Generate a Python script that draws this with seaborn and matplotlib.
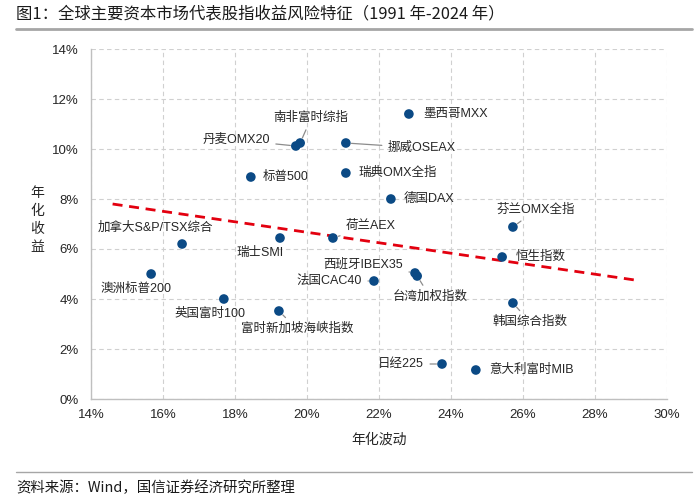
import matplotlib
matplotlib.use("Agg")
import matplotlib.pyplot as plt
import seaborn as sns
import pandas as pd
from matplotlib.lines import Line2D

# ---- data (percent) ----
names = ["墨西哥MXX", "丹麦OMX20", "南非富时综指", "挪威OSEAX", "标普500", "瑞典OMX全指",
         "德国DAX", "芬兰OMX全指", "荷兰AEX", "加拿大S&P/TSX综合", "瑞士SMI", "恒生指数",
         "澳洲标普200", "西班牙IBEX35", "台湾加权指数", "法国CAC40", "英国富时100",
         "富时新加坡海峡指数", "韩国综合指数", "日经225", "意大利富时MIB"]
volatility = [22.83, 19.69, 19.81, 21.08, 18.44, 21.08,
              22.33, 25.72, 20.72, 16.53, 19.25, 25.42,
              15.67, 23.00, 23.06, 21.86, 17.69,
              19.22, 25.72, 23.75, 24.69]
annual_return = [11.40, 10.12, 10.24, 10.24, 8.88, 9.04,
                 8.00, 6.88, 6.44, 6.20, 6.44, 5.68,
                 5.00, 5.04, 4.92, 4.72, 4.00,
                 3.52, 3.84, 1.40, 1.16]
trend_vol = [14.6, 29.2]
trend_ret = [7.80, 4.74]
x_ticks = [14, 16, 18, 20, 22, 24, 26, 28, 30]
y_ticks = [0, 2, 4, 6, 8, 10, 12, 14]

# ---- label layout (offset in pixels, ha, leader) ----
layout = {
    "墨西哥MXX": (14, 0, "left", False),
    "丹麦OMX20": (-26, 6, "right", True),
    "南非富时综指": (11, 25, "center", True),
    "挪威OSEAX": (42, -5, "left", True),
    "标普500": (12, 0, "left", False),
    "瑞典OMX全指": (13, 0, "left", False),
    "德国DAX": (13, 0, "left", False),
    "芬兰OMX全指": (23, 17, "center", True),
    "荷兰AEX": (13, 12, "left", True),
    "加拿大S&P/TSX综合": (-27, 16, "center", False),
    "瑞士SMI": (-20, -15, "center", False),
    "恒生指数": (14, 0, "left", False),
    "澳洲标普200": (-15, -15, "center", False),
    "西班牙IBEX35": (-12, 9, "right", True),
    "台湾加权指数": (13, -21, "center", True),
    "法国CAC40": (-12, 0, "right", True),
    "英国富时100": (-14, -15, "center", False),
    "富时新加坡海峡指数": (18, -18, "center", True),
    "韩国综合指数": (17, -19, "center", True),
    "日经225": (-18, 0, "right", True),
    "意大利富时MIB": (13, 0, "left", False),
}

sns.set_theme(style="white")
plt.rcParams["font.family"] = ["Liberation Sans", "Noto Sans CJK SC", "DejaVu Sans"]
plt.rcParams["axes.unicode_minus"] = False

df = pd.DataFrame({"name": names, "vol": volatility, "ret": annual_return})

fig = plt.figure(figsize=(7.0, 5.01), dpi=100)
ax = fig.add_axes([91 / 700, 1 - 399 / 501, (667 - 91) / 700, (399 - 49) / 501])

ax.plot(trend_vol, trend_ret, color="#E3000F", lw=2.0, linestyle=(0, (3.6, 2.4)), zorder=2)
sns.scatterplot(data=df, x="vol", y="ret", ax=ax, color="#0B4A85", s=48,
                edgecolor="none", zorder=3, legend=False)

for _, r in df.iterrows():
    dx, dy, ha, leader = layout[r["name"]]
    kw = {}
    if leader:
        kw["arrowprops"] = dict(arrowstyle="-", color="#8C8C8C", lw=0.9,
                                shrinkA=2, shrinkB=4)
    ax.annotate(r["name"], (r["vol"], r["ret"]), xytext=(dx, dy),
                textcoords="offset pixels", ha=ha, va="center",
                fontsize=9, color="#262626", zorder=4, **kw)

ax.set_xlim(14, 30)
ax.set_ylim(0, 14)
ax.set_xticks(x_ticks)
ax.set_yticks(y_ticks)
ax.set_xticklabels([f"{t}%" for t in x_ticks])
ax.set_yticklabels([f"{t}%" for t in y_ticks])
ax.tick_params(axis="both", length=0, labelsize=9.5, colors="#262626")
ax.tick_params(axis="y", pad=9)
ax.tick_params(axis="x", pad=7.5)
ax.grid(True, color="#D0D0D0", linestyle=(0, (4, 3)), lw=0.8)
ax.set_axisbelow(True)
for s in ["top", "right"]:
    ax.spines[s].set_visible(False)
for s in ["left", "bottom"]:
    ax.spines[s].set_color("#BFBFBF")
    ax.spines[s].set_linewidth(1.0)
ax.set_xlabel("")
ax.set_ylabel("")

fig.text(379 / 700, 1 - 440 / 501, "年化波动", ha="center", va="center",
         fontsize=10, color="#262626")
fig.text(37 / 700, 1 - 220 / 501, "年\n化\n收\n益", ha="center", va="center",
         fontsize=10, color="#262626", linespacing=1.38)

fig.text(16 / 700, 1 - 14 / 501, "图1：全球主要资本市场代表股指收益风险特征（1991 年-2024 年）",
         ha="left", va="center", fontsize=11.8, color="#1A1A1A",
         family=["Noto Sans CJK SC", "DejaVu Sans"])
fig.add_artist(Line2D([16 / 700, 692 / 700], [1 - 28.5 / 501, 1 - 28.5 / 501],
                      color="#A6A6A6", lw=2.0, transform=fig.transFigure))
fig.add_artist(Line2D([16 / 700, 692 / 700], [1 - 472 / 501, 1 - 472 / 501],
                      color="#A6A6A6", lw=1.0, transform=fig.transFigure))
fig.text(16 / 700, 1 - 488 / 501, "资料来源：Wind，国信证券经济研究所整理",
         ha="left", va="center", fontsize=10.4, color="#1A1A1A",
         family=["Noto Sans CJK SC", "DejaVu Sans"])

fig.savefig("out.png", dpi=100, facecolor="white")
